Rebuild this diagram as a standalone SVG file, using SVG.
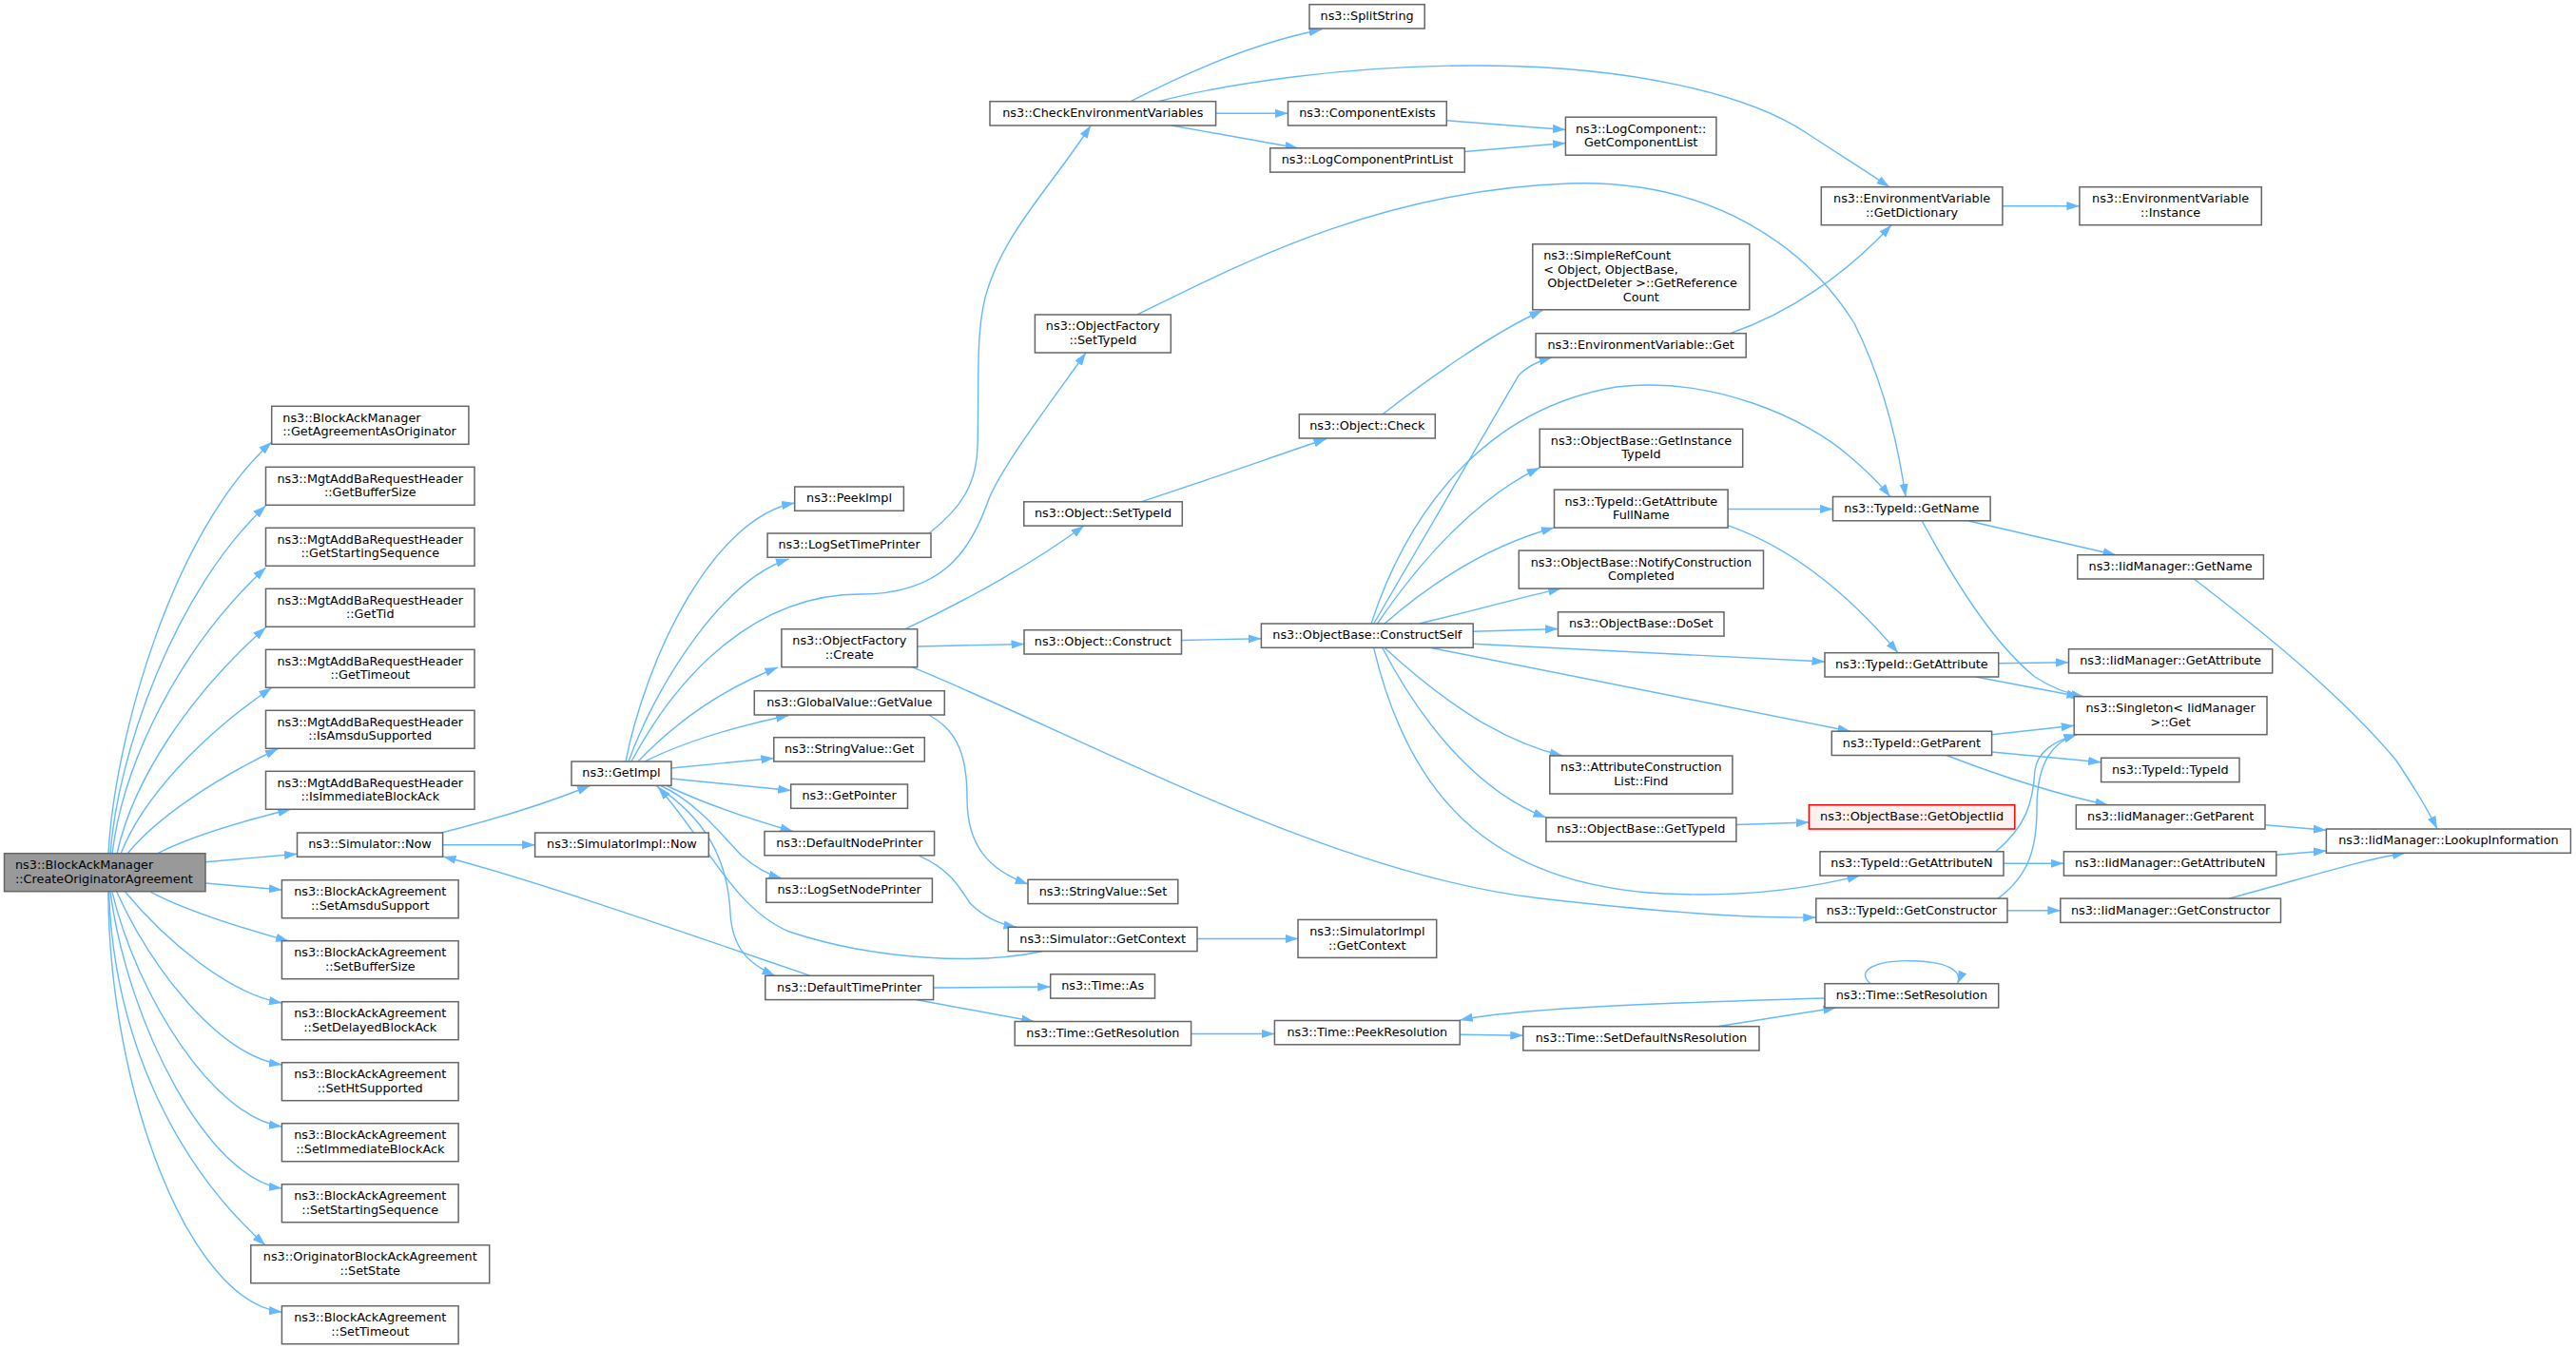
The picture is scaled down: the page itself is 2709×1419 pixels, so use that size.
<svg xmlns="http://www.w3.org/2000/svg" width="2709" height="1419" viewBox="0 0 2709 1419">
<style>
.n rect{fill:#fff;stroke:#666;stroke-width:1.5}
.main rect{fill:#999}
.red rect{fill:#fff0f0;stroke:#f00}
text{font-family:"DejaVu Sans","Liberation Sans",sans-serif;font-size:12.8px;fill:#000;text-anchor:middle}
text.l{text-anchor:start}
#edges path{fill:none;stroke:#63b8ff;stroke-width:1.4;marker-end:url(#a)}
</style>
<defs>
<marker id="a" markerUnits="userSpaceOnUse" markerWidth="14" markerHeight="10" refX="13.5" refY="5" orient="auto" viewBox="0 0 14 10"><path d="M0,0.4 L13.5,5 L0,9.6 z" fill="#63b8ff"/></marker>
</defs>
<rect width="2709" height="1419" fill="#fff"/>
<g id="edges">
<path d="M114,898 C120,780 180,560 285.7,465"/>
<path d="M116,898 C124,790 185,620 279.5,532"/>
<path d="M118,898 C130,800 190,680 279.5,597"/>
<path d="M123,898 C140,820 200,730 279.5,660"/>
<path d="M127,898 C150,840 210,775 285.7,723.5"/>
<path d="M134,898 C165,860 225,820 292.4,787.5"/>
<path d="M165,898 C200,880 250,865 305.8,851.3"/>
<path d="M216,906.7 L312.5,898.3"/>
<path d="M216,929 L296.4,936"/>
<path d="M158.5,938.3 C190,955 250,975 303.6,990"/>
<path d="M131.7,938.3 C175,990 240,1045 296.4,1055"/>
<path d="M122.8,938.3 C160,1020 230,1110 296.4,1120"/>
<path d="M118,938.3 C145,1050 225,1175 296.4,1185"/>
<path d="M116,938.3 C135,1080 220,1240 296.4,1250"/>
<path d="M114.5,938.3 C120,1100 190,1230 279,1309.7"/>
<path d="M113.8,938.3 C115,1150 200,1370 296.4,1380"/>
<path d="M464,876 C520,862 575,845 620.5,826.5"/>
<path d="M465.6,888.7 L562.6,888.7"/>
<path d="M658,801 C680,690 750,545 835.7,529"/>
<path d="M661,801 C690,720 760,610 829.5,588"/>
<path d="M664,801 C710,715 790,625 905,625 C990,625 1020,580 1038,530 C1050,495 1100,430 1142,371"/>
<path d="M977,561 C1010,535 1027,510 1028,470 C1030,400 1025,340 1040,300 C1060,240 1110,190 1147,132"/>
<path d="M671,801 C710,760 760,725 818,702"/>
<path d="M678,801 C720,780 770,765 829.5,752.5"/>
<path d="M706,808 L813.8,797.5"/>
<path d="M706,819 L831.7,831.5"/>
<path d="M700,826 C740,845 790,862 834,874.5"/>
<path d="M694,826 C735,845 760,880 780,900 C795,913 808,920 822,924"/>
<path d="M690,826.3 C740,860 765,900 768,960 C770,1000 790,1015 815,1026.3"/>
<path d="M1095.6,1000.7 C1030,1015 920,1010 830,980 C770,955 740,880 692,828"/>
<path d="M852,1026.3 C740,988 560,925 466,901"/>
<path d="M967,900.4 C1000,915 1010,935 1020,950 C1035,965 1050,972 1069,975.3"/>
<path d="M976.8,752 C1010,770 1017,800 1017,840 C1017,890 1040,915 1081,930"/>
<path d="M981.6,1039 L1104.7,1038"/>
<path d="M964.4,1051.8 L1087.6,1074.5"/>
<path d="M1252.6,1087.5 L1340.4,1087.5"/>
<path d="M1535.3,1088.3 L1601.8,1089.3"/>
<path d="M1806,1079.7 L1931,1060"/>
<path d="M1919,1050 C1750,1055 1600,1060 1535.3,1073"/>
<path d="M1967,1034.7 C1950,1020 1975,1010 2009,1010.7 C2045,1011 2065,1020 2058.5,1034.7"/>
<path d="M1259,987.5 L1365,987.5"/>
<path d="M1189,106.7 C1250,75 1320,45 1390,31"/>
<path d="M1218,106.7 C1290,88 1420,68 1560,69 C1720,70 1840,100 1900,140 C1935,163 1962,180 1987,196.7"/>
<path d="M1278.6,119.3 L1354.5,119.3"/>
<path d="M1232,132 L1365,155.8"/>
<path d="M1521.4,126.8 L1646.4,136.5"/>
<path d="M1540.3,159.5 L1646.4,150.5"/>
<path d="M2106,216.7 L2186.9,216.7"/>
<path d="M1819.6,350.7 C1880,330 1940,290 1989,236.7"/>
<path d="M1196,331 C1300,280 1450,200 1650,193 C1800,188 1900,260 1950,340 C1980,400 1995,460 2004,522.5"/>
<path d="M952,661.7 C1020,630 1090,590 1140,553"/>
<path d="M964.7,680 L1077,677.5"/>
<path d="M959,701.7 C1150,780 1400,920 1620,945 C1750,960 1850,966 1909.8,965"/>
<path d="M1199.8,527.9 C1270,505 1340,480 1395,461.5"/>
<path d="M1454,435.7 C1500,400 1570,350 1622,326.5"/>
<path d="M1242.6,673.5 L1326.4,671.7"/>
<path d="M1444.7,656 L1597,395 C1605,386 1618,380 1632,376"/>
<path d="M1442,656 C1480,540 1560,430 1700,407 C1800,395 1900,440 1945,480 C1965,497 1978,510 1987.7,522.5"/>
<path d="M1448.5,656 C1500,580 1560,520 1619.2,492"/>
<path d="M1456,656 C1520,600 1580,570 1634.5,555"/>
<path d="M1492.5,656 C1560,640 1600,628 1641.8,619.1"/>
<path d="M1549.2,664.3 L1638.5,661.5"/>
<path d="M1549.2,677.3 L1919,696"/>
<path d="M1504,681.3 L1946,769.2"/>
<path d="M1455.8,681.3 C1520,740 1580,780 1643.3,795"/>
<path d="M1453.6,681.3 C1500,770 1560,835 1625.9,860"/>
<path d="M1444.6,681.3 C1480,830 1560,930 1750,940 C1850,945 1920,930 1956,921.1"/>
<path d="M1825.9,867.5 L1902.4,865"/>
<path d="M1817,535.5 L1927.5,535.5"/>
<path d="M1817,552.7 C1880,575 1940,620 1996,686.7"/>
<path d="M2070.3,548 L2225,583.7"/>
<path d="M2021.3,548 C2060,620 2100,680 2140,712 C2160,725 2175,730 2191.5,732.7"/>
<path d="M2101.7,697.7 L2175.5,696.7"/>
<path d="M2078,712 L2187,732.7"/>
<path d="M2094.5,772.7 L2181.2,763.3"/>
<path d="M2094.5,791 L2209.6,801.7"/>
<path d="M2047,794.5 C2100,815 2160,835 2217,846.7"/>
<path d="M2098.7,895.8 C2130,870 2138,845 2140,810 C2143,790 2160,780 2184,772.7"/>
<path d="M2107,908.3 L2170.4,908.3"/>
<path d="M2101,945.1 C2135,920 2142,890 2142,850 C2142,800 2160,780 2184,772.7"/>
<path d="M2111,957.7 L2166.8,957.7"/>
<path d="M2307.6,609.3 C2400,680 2470,740 2520,800 C2540,830 2555,855 2563,872"/>
<path d="M2382,867.7 L2446.4,873.3"/>
<path d="M2393.8,899.3 L2446.4,895"/>
<path d="M2343.8,945.1 C2420,925 2480,905 2529.5,897.3"/>
</g>
<g id="n_main" class="n main"><rect x="4.5" y="897.7" width="211.5" height="40"/><text class="l" x="16" y="914.15">ns3::BlockAckManager</text><text class="l" x="16" y="928.85">::CreateOriginatorAgreement</text></g>
<g id="n_getagr" class="n"><rect x="285.7" y="427.3" width="207.2" height="40"/><text class="l" x="297.3" y="443.75">ns3::BlockAckManager</text><text class="l" x="297.3" y="458.45">::GetAgreementAsOriginator</text></g>
<g id="n_getbuf" class="n"><rect x="279.5" y="491.3" width="219.5" height="40"/><text x="389.25" y="507.75">ns3::MgtAddBaRequestHeader</text><text x="389.25" y="522.45">::GetBufferSize</text></g>
<g id="n_getss" class="n"><rect x="279.5" y="555.3" width="219.5" height="40"/><text x="389.25" y="571.75">ns3::MgtAddBaRequestHeader</text><text x="389.25" y="586.45">::GetStartingSequence</text></g>
<g id="n_gettid" class="n"><rect x="279.5" y="619.3" width="219.5" height="40"/><text x="389.25" y="635.75">ns3::MgtAddBaRequestHeader</text><text x="389.25" y="650.45">::GetTid</text></g>
<g id="n_gettimeout" class="n"><rect x="279.5" y="683.3" width="219.5" height="40"/><text x="389.25" y="699.75">ns3::MgtAddBaRequestHeader</text><text x="389.25" y="714.45">::GetTimeout</text></g>
<g id="n_isamsdu" class="n"><rect x="279.5" y="747.3" width="219.5" height="40"/><text x="389.25" y="763.75">ns3::MgtAddBaRequestHeader</text><text x="389.25" y="778.45">::IsAmsduSupported</text></g>
<g id="n_isimm" class="n"><rect x="279.5" y="811.3" width="219.5" height="40"/><text x="389.25" y="827.75">ns3::MgtAddBaRequestHeader</text><text x="389.25" y="842.45">::IsImmediateBlockAck</text></g>
<g id="n_simnow" class="n"><rect x="312.5" y="876" width="153.1" height="25.3"/><text x="389.05" y="892.45">ns3::Simulator::Now</text></g>
<g id="n_setamsdu" class="n"><rect x="296.4" y="925.7" width="185.7" height="40"/><text x="389.25" y="942.15">ns3::BlockAckAgreement</text><text x="389.25" y="956.85">::SetAmsduSupport</text></g>
<g id="n_setbuf" class="n"><rect x="296.4" y="989.7" width="185.7" height="40"/><text x="389.25" y="1006.15">ns3::BlockAckAgreement</text><text x="389.25" y="1020.85">::SetBufferSize</text></g>
<g id="n_setdelayed" class="n"><rect x="296.4" y="1053.7" width="185.7" height="40"/><text x="389.25" y="1070.15">ns3::BlockAckAgreement</text><text x="389.25" y="1084.85">::SetDelayedBlockAck</text></g>
<g id="n_setht" class="n"><rect x="296.4" y="1117.7" width="185.7" height="40"/><text x="389.25" y="1134.15">ns3::BlockAckAgreement</text><text x="389.25" y="1148.85">::SetHtSupported</text></g>
<g id="n_setimm" class="n"><rect x="296.4" y="1181.7" width="185.7" height="40"/><text x="389.25" y="1198.15">ns3::BlockAckAgreement</text><text x="389.25" y="1212.85">::SetImmediateBlockAck</text></g>
<g id="n_setss" class="n"><rect x="296.4" y="1245.7" width="185.7" height="40"/><text x="389.25" y="1262.15">ns3::BlockAckAgreement</text><text x="389.25" y="1276.85">::SetStartingSequence</text></g>
<g id="n_setstate" class="n"><rect x="263.8" y="1309.7" width="250.9" height="40"/><text x="389.25" y="1326.15">ns3::OriginatorBlockAckAgreement</text><text x="389.25" y="1340.85">::SetState</text></g>
<g id="n_settimeout" class="n"><rect x="296.4" y="1373.7" width="185.7" height="40"/><text x="389.25" y="1390.15">ns3::BlockAckAgreement</text><text x="389.25" y="1404.85">::SetTimeout</text></g>
<g id="n_getimpl" class="n"><rect x="601" y="801" width="105" height="25.3"/><text x="653.5" y="817.45">ns3::GetImpl</text></g>
<g id="n_simimplnow" class="n"><rect x="562.6" y="876" width="182.7" height="25.3"/><text x="653.95" y="892.45">ns3::SimulatorImpl::Now</text></g>
<g id="n_peekimpl" class="n"><rect x="835.7" y="512" width="114.7" height="25.3"/><text x="893.05" y="528.45">ns3::PeekImpl</text></g>
<g id="n_logsettp" class="n"><rect x="807.1" y="561" width="171.9" height="25.3"/><text x="893.05" y="577.45">ns3::LogSetTimePrinter</text></g>
<g id="n_ofcreate" class="n"><rect x="821.9" y="661.7" width="142.8" height="40"/><text x="893.3" y="678.15">ns3::ObjectFactory</text><text x="893.3" y="692.85">::Create</text></g>
<g id="n_gvget" class="n"><rect x="793.3" y="726.7" width="200" height="25.3"/><text x="893.3" y="743.15">ns3::GlobalValue::GetValue</text></g>
<g id="n_svget" class="n"><rect x="813.8" y="775.7" width="158.5" height="25.3"/><text x="893.05" y="792.15">ns3::StringValue::Get</text></g>
<g id="n_getptr" class="n"><rect x="831.7" y="825" width="122.8" height="25.3"/><text x="893.1" y="841.45">ns3::GetPointer</text></g>
<g id="n_defnp" class="n"><rect x="804" y="874.5" width="178.6" height="25.3"/><text x="893.3" y="890.95">ns3::DefaultNodePrinter</text></g>
<g id="n_logsetnp" class="n"><rect x="805.8" y="924" width="174.6" height="25.3"/><text x="893.1" y="940.45">ns3::LogSetNodePrinter</text></g>
<g id="n_deftp" class="n"><rect x="804.8" y="1026.3" width="176.8" height="25.3"/><text x="893.2" y="1042.75">ns3::DefaultTimePrinter</text></g>
<g id="n_checkenv" class="n"><rect x="1041" y="106.7" width="237.6" height="25.3"/><text x="1159.8" y="123.15">ns3::CheckEnvironmentVariables</text></g>
<g id="n_ofsettype" class="n"><rect x="1088.4" y="331" width="142.9" height="40"/><text x="1159.85" y="347.45">ns3::ObjectFactory</text><text x="1159.85" y="362.15">::SetTypeId</text></g>
<g id="n_objsettype" class="n"><rect x="1076.8" y="527.8" width="166.5" height="25.3"/><text x="1160.05" y="544.25">ns3::Object::SetTypeId</text></g>
<g id="n_objconstruct" class="n"><rect x="1077" y="662.7" width="165.5" height="25.3"/><text x="1159.75" y="679.15">ns3::Object::Construct</text></g>
<g id="n_svset" class="n"><rect x="1081" y="925.3" width="157.8" height="25.3"/><text x="1159.9" y="941.75">ns3::StringValue::Set</text></g>
<g id="n_simgetctx" class="n"><rect x="1060.3" y="975.3" width="198.7" height="25.3"/><text x="1159.65" y="991.75">ns3::Simulator::GetContext</text></g>
<g id="n_timeas" class="n"><rect x="1104.7" y="1024.8" width="109.8" height="25.3"/><text x="1159.6" y="1041.25">ns3::Time::As</text></g>
<g id="n_getres" class="n"><rect x="1067.2" y="1074.5" width="185.4" height="25.3"/><text x="1159.9" y="1090.95">ns3::Time::GetResolution</text></g>
<g id="n_split" class="n"><rect x="1377" y="4.7" width="121.2" height="25.3"/><text x="1437.6" y="21.15">ns3::SplitString</text></g>
<g id="n_compexists" class="n"><rect x="1354.5" y="106.7" width="166.8" height="25.3"/><text x="1437.9" y="123.15">ns3::ComponentExists</text></g>
<g id="n_logcpl" class="n"><rect x="1335.7" y="155.8" width="204.6" height="25.3"/><text x="1438" y="172.25">ns3::LogComponentPrintList</text></g>
<g id="n_objcheck" class="n"><rect x="1366.3" y="435.7" width="143" height="25.3"/><text x="1437.8" y="452.15">ns3::Object::Check</text></g>
<g id="n_constructself" class="n"><rect x="1326.4" y="656" width="222.8" height="25.3"/><text x="1437.8" y="672.45">ns3::ObjectBase::ConstructSelf</text></g>
<g id="n_simimplctx" class="n"><rect x="1365" y="967.4" width="145.7" height="40"/><text x="1437.85" y="983.85">ns3::SimulatorImpl</text><text x="1437.85" y="998.55">::GetContext</text></g>
<g id="n_peekres" class="n"><rect x="1340.4" y="1073.5" width="194.9" height="25.3"/><text x="1437.85" y="1089.95">ns3::Time::PeekResolution</text></g>
<g id="n_getcomplist" class="n"><rect x="1646.4" y="123.2" width="158.5" height="40"/><text x="1725.65" y="139.65">ns3::LogComponent::</text><text x="1725.65" y="154.35">GetComponentList</text></g>
<g id="n_simplerefcount" class="n"><rect x="1611.8" y="256.8" width="228" height="69"/><text class="l" x="1623.2" y="273.05">ns3::SimpleRefCount</text><text class="l" x="1623.2" y="287.75">&lt; Object, ObjectBase,</text><text class="l" x="1627.2" y="302.45">ObjectDeleter &gt;::GetReference</text><text x="1725.8" y="317.15">Count</text></g>
<g id="n_envget" class="n"><rect x="1615.1" y="350.7" width="221.1" height="25.3"/><text x="1725.65" y="367.15">ns3::EnvironmentVariable::Get</text></g>
<g id="n_getinsttid" class="n"><rect x="1619.2" y="451.3" width="213.5" height="40"/><text x="1725.95" y="467.75">ns3::ObjectBase::GetInstance</text><text x="1725.95" y="482.45">TypeId</text></g>
<g id="n_getattrfn" class="n"><rect x="1634.5" y="515.1" width="182.6" height="40"/><text x="1725.8" y="531.55">ns3::TypeId::GetAttribute</text><text x="1725.8" y="546.25">FullName</text></g>
<g id="n_notify" class="n"><rect x="1597.3" y="579.1" width="257.2" height="40"/><text x="1725.9" y="595.55">ns3::ObjectBase::NotifyConstruction</text><text x="1725.9" y="610.25">Completed</text></g>
<g id="n_doset" class="n"><rect x="1638.5" y="643.8" width="174.5" height="25.3"/><text x="1725.75" y="660.25">ns3::ObjectBase::DoSet</text></g>
<g id="n_acfind" class="n"><rect x="1629.8" y="795" width="192.1" height="40"/><text x="1725.85" y="811.45">ns3::AttributeConstruction</text><text x="1725.85" y="826.15">List::Find</text></g>
<g id="n_obgettid" class="n"><rect x="1625.9" y="860" width="200" height="25.3"/><text x="1725.9" y="876.45">ns3::ObjectBase::GetTypeId</text></g>
<g id="n_setdefns" class="n"><rect x="1601.8" y="1079.7" width="248.2" height="25.3"/><text x="1725.9" y="1096.15">ns3::Time::SetDefaultNsResolution</text></g>
<g id="n_getdict" class="n"><rect x="1915.3" y="196.7" width="190.6" height="40"/><text x="2010.6" y="213.15">ns3::EnvironmentVariable</text><text x="2010.6" y="227.85">::GetDictionary</text></g>
<g id="n_tidgetname" class="n"><rect x="1927.5" y="522.5" width="165.6" height="25.3"/><text x="2010.3" y="538.95">ns3::TypeId::GetName</text></g>
<g id="n_tidgetattr" class="n"><rect x="1919" y="686.7" width="182.7" height="25.3"/><text x="2010.35" y="703.15">ns3::TypeId::GetAttribute</text></g>
<g id="n_tidgetparent" class="n"><rect x="1926.3" y="769.2" width="168.3" height="25.3"/><text x="2010.45" y="785.65">ns3::TypeId::GetParent</text></g>
<g id="n_getobjiid" class="n red"><rect x="1902.4" y="846.7" width="216.4" height="25.3"/><text x="2010.6" y="863.15">ns3::ObjectBase::GetObjectIid</text></g>
<g id="n_tidgetattrn" class="n"><rect x="1914" y="895.8" width="193" height="25.3"/><text x="2010.5" y="912.25">ns3::TypeId::GetAttributeN</text></g>
<g id="n_tidgetctor" class="n"><rect x="1909.8" y="945.1" width="201.2" height="25.3"/><text x="2010.4" y="961.55">ns3::TypeId::GetConstructor</text></g>
<g id="n_setres" class="n"><rect x="1919" y="1034.7" width="182.7" height="25.3"/><text x="2010.35" y="1051.15">ns3::Time::SetResolution</text></g>
<g id="n_envinst" class="n"><rect x="2186.9" y="196.7" width="191.4" height="40"/><text x="2282.6" y="213.15">ns3::EnvironmentVariable</text><text x="2282.6" y="227.85">::Instance</text></g>
<g id="n_iidgetname" class="n"><rect x="2184.8" y="583.7" width="195.6" height="25.3"/><text x="2282.6" y="600.15">ns3::IidManager::GetName</text></g>
<g id="n_iidgetattr" class="n"><rect x="2175.5" y="682.7" width="214.2" height="25.3"/><text x="2282.6" y="699.15">ns3::IidManager::GetAttribute</text></g>
<g id="n_singleton" class="n"><rect x="2181.2" y="732.7" width="202.8" height="40"/><text x="2282.6" y="749.15">ns3::Singleton&lt; IidManager</text><text x="2282.6" y="763.85">&gt;::Get</text></g>
<g id="n_tidtid" class="n"><rect x="2209.6" y="797.3" width="145.4" height="25.3"/><text x="2282.3" y="813.75">ns3::TypeId::TypeId</text></g>
<g id="n_iidgetparent" class="n"><rect x="2183.3" y="846.7" width="198.7" height="25.3"/><text x="2282.65" y="863.15">ns3::IidManager::GetParent</text></g>
<g id="n_iidgetattrn" class="n"><rect x="2170.4" y="895.8" width="223.4" height="25.3"/><text x="2282.1" y="912.25">ns3::IidManager::GetAttributeN</text></g>
<g id="n_iidgetctor" class="n"><rect x="2166.8" y="945.1" width="231.7" height="25.3"/><text x="2282.65" y="961.55">ns3::IidManager::GetConstructor</text></g>
<g id="n_lookup" class="n"><rect x="2446.4" y="872" width="257" height="25.3"/><text x="2574.9" y="888.45">ns3::IidManager::LookupInformation</text></g>
</svg>
